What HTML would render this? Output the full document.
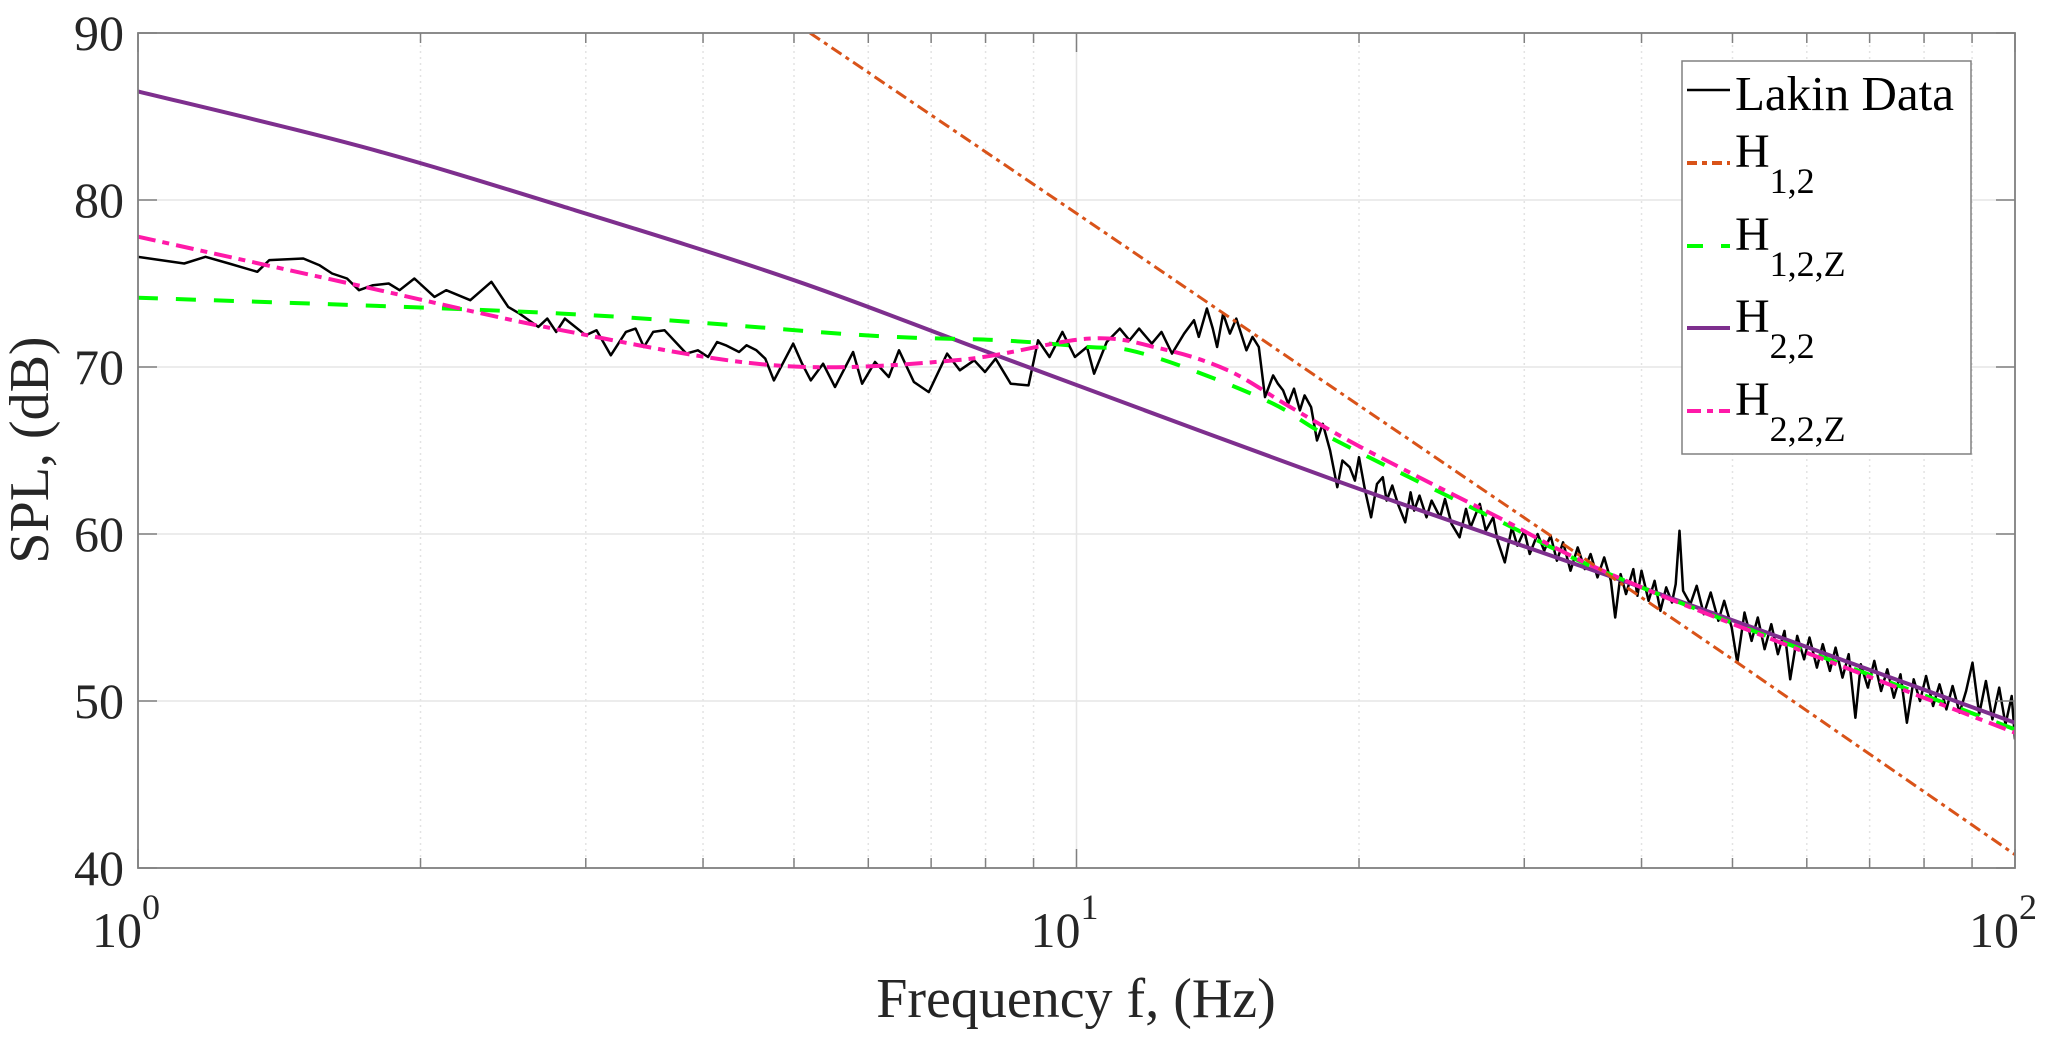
<!DOCTYPE html>
<html><head><meta charset="utf-8">
<style>
html,body{margin:0;padding:0;background:#fff;}
svg{display:block;font-family:"Liberation Serif",serif;}
</style></head>
<body>
<svg id="chart" width="2067" height="1046" viewBox="0 0 2067 1046" xmlns="http://www.w3.org/2000/svg">
<rect width="2067" height="1046" fill="#fff"/>
<g id="grid"></g>
<g id="series"></g>
<g id="axes"></g>
<g id="legend">
  <rect x="1682" y="61" width="289" height="393" fill="#fff" stroke="#808080" stroke-width="1.5"/>
  <g>
    <line x1="1687" y1="90" x2="1730" y2="90" stroke="#000" stroke-width="2.5"/>
    <text x="1735" y="110" font-size="49" fill="#000">Lakin Data</text>
  </g>
  <g>
    <line x1="1687" y1="163" x2="1730" y2="163" stroke="#d95319" stroke-width="4" stroke-dasharray="10 5 5 5"/>
    <text x="1735" y="167" font-size="48" fill="#000">H<tspan font-size="36" dy="26">1,2</tspan></text>
  </g>
  <g>
    <line x1="1687" y1="246" x2="1730" y2="246" stroke="#00ff00" stroke-width="4" stroke-dasharray="16 18"/>
    <text x="1735" y="250" font-size="48" fill="#000">H<tspan font-size="36" dy="26">1,2,Z</tspan></text>
  </g>
  <g>
    <line x1="1687" y1="328" x2="1730" y2="328" stroke="#7e2f8e" stroke-width="4"/>
    <text x="1735" y="332" font-size="48" fill="#000">H<tspan font-size="36" dy="26">2,2</tspan></text>
  </g>
  <g>
    <line x1="1687" y1="411" x2="1730" y2="411" stroke="#ff19a8" stroke-width="4" stroke-dasharray="14 6 6 6"/>
    <text x="1735" y="415" font-size="48" fill="#000">H<tspan font-size="36" dy="26">2,2,Z</tspan></text>
  </g>
</g>
<text x="1076" y="1017" font-size="56" fill="#262626" text-anchor="middle">Frequency f, (Hz)</text>
<text x="0" y="0" font-size="56" fill="#262626" text-anchor="middle" transform="translate(48,450) rotate(-90)">SPL, (dB)</text>
</svg>
<script>
// ---- data ----
const yTicks = [40, 50, 60, 70, 80, 90];
const xDecades = [0, 1, 2];
const h12Freq = [5.2, 10, 20, 50, 100];
const h12Val = [90, 79.2, 67.7, 52.5, 40.8];
const h22Freq = [1, 1.73, 2.88, 5, 8.31, 18.9, 40, 100];
const h22Val = [86.5, 83.2, 79.5, 75.2, 70.6, 63.2, 56.8, 48.7];
const h12zFreq = [1, 2.83, 5.95, 8.3, 10.3, 11.4, 13.3, 16.2, 18.9, 27.7, 40, 100];
const h12zVal = [74.15, 73.2, 71.9, 71.6, 71.2, 71.0, 69.8, 67.8, 65.6, 61.0, 56.8, 48.3];
const h22zFreq = [1, 1.68, 2.83, 4.76, 7.43, 10.3, 12.3, 14.5, 16.9, 20.1, 27.7, 40, 100];
const h22zVal = [77.8, 75.0, 72.2, 70.1, 70.4, 71.7, 71.1, 69.8, 67.6, 65.2, 61.2, 56.8, 48.1];
const lakinFreq = [1.00,1.12,1.18,1.25,1.34,1.38,1.50,1.56,1.61,1.67,1.72,1.78,1.85,1.90,1.97,2.07,2.13,2.26,2.38,2.48,2.55,2.67,2.73,2.79,2.85,3.00,3.08,3.19,3.31,3.39,3.46,3.54,3.64,3.84,3.95,4.05,4.14,4.23,4.37,4.45,4.56,4.66,4.76,4.99,5.10,5.21,5.37,5.53,5.78,5.91,6.10,6.31,6.47,6.71,6.96,7.28,7.51,7.78,7.99,8.20,8.51,8.89,9.10,9.36,9.66,9.96,10.26,10.44,10.77,11.12,11.39,11.66,12.03,12.32,12.64,13.02,13.34,13.5,13.77,13.97,14.12,14.33,14.57,14.8,15.17,15.4,15.64,15.88,16.2,16.39,16.6,16.81,17.05,17.3,17.5,17.78,18.04,18.3,18.63,18.96,19.2,19.55,19.8,20.0,20.3,20.6,20.9,21.2,21.4,21.7,22.0,22.4,22.7,22.9,23.2,23.6,23.9,24.4,24.7,25.1,25.6,26.0,26.3,26.9,27.3,27.8,28.1,28.6,29.1,29.5,30.0,30.4,31.0,31.5,32.0,32.5,33.0,33.6,34.2,34.8,35.3,35.9,36.5,37.1,37.5,38.0,38.5,39.2,39.6,40.0,40.7,41.3,41.9,42.5,43.1,43.5,43.9,44.3,45.1,45.8,46.6,47.4,48.3,49.0,49.9,50.6,51.5,52.4,53.2,54.1,55.0,55.9,56.8,57.6,58.6,59.6,60.4,61.5,62.4,63.5,64.4,65.5,66.5,67.6,68.5,69.7,70.8,72.0,73.1,74.3,75.5,76.7,78.0,79.2,80.4,81.8,83.1,84.5,85.8,87.3,88.7,90.1,91.6,93.1,94.6,96.2,97.7,99.2,100];
const lakinVal = [76.6,76.2,76.6,76.2,75.7,76.4,76.5,76.1,75.6,75.3,74.6,74.9,75.0,74.6,75.3,74.2,74.6,74.0,75.1,73.6,73.2,72.4,72.9,72.1,72.9,71.9,72.2,70.7,72.1,72.3,71.2,72.1,72.2,70.8,71.0,70.6,71.5,71.3,70.9,71.3,71.0,70.5,69.2,71.4,70.2,69.2,70.2,68.8,70.9,69.0,70.3,69.4,71.0,69.1,68.5,70.8,69.8,70.4,69.7,70.5,69.0,68.9,71.6,70.6,72.1,70.6,71.2,69.6,71.5,72.3,71.6,72.3,71.4,72.1,70.8,72.0,72.8,71.8,73.5,72.3,71.2,73.2,72.0,72.9,71.0,71.8,71.2,68.2,69.5,69.0,68.6,67.8,68.7,67.4,68.3,67.6,65.6,66.6,65.0,62.8,64.4,64.0,63.2,64.6,62.6,61.0,63.0,63.4,62.0,62.9,61.8,60.7,62.5,61.4,62.3,61.0,62.0,61.0,62.1,60.6,59.8,61.5,60.4,61.8,60.2,61.0,59.6,58.3,60.4,59.3,60.2,58.8,60.0,59.0,59.9,58.4,59.5,57.8,59.2,57.9,58.8,57.4,58.6,57.2,55.0,57.6,56.4,57.9,56.3,57.8,56.0,57.2,55.4,56.8,55.9,57.0,60.2,56.6,55.8,56.9,55.2,56.5,54.8,56.0,54.4,52.3,55.3,53.6,55.0,53.1,54.6,52.8,54.2,51.3,53.9,52.5,53.8,52.0,53.4,51.8,53.2,51.4,52.8,49.0,52.2,50.8,52.4,50.6,51.9,50.2,51.6,48.7,51.3,50.0,51.5,49.7,51.0,49.5,50.9,49.3,50.6,52.3,49.2,51.2,48.9,50.8,48.6,50.3,47.7];

// ---- axis functions ----
const L = 138, R = 2015, T = 33, B = 868;
const xMin = 0, xMax = 2, yMin = 40, yMax = 90;
function xs(f){ return L + (Math.log10(f) - xMin) / (xMax - xMin) * (R - L); }
function ys(v){ return B - (v - yMin) / (yMax - yMin) * (B - T); }
const NS = "http://www.w3.org/2000/svg";
function mk(tag, parent){ const e = document.createElementNS(NS, tag); parent.appendChild(e); return e; }

const grid = document.getElementById('grid');
const axes = document.getElementById('axes');
const series = document.getElementById('series');

for (let d = 0; d < 2; d++) {
  for (let m = 2; m <= 9; m++) {
    const x = xs(m * Math.pow(10, d));
    const g = mk('line', grid);
    
    
    g.setAttribute('x1', x); g.setAttribute('x2', x); g.setAttribute('y1', T); g.setAttribute('y2', B);
    g.setAttribute('stroke', '#e3e3e3'); g.setAttribute('stroke-width', '1.5'); g.setAttribute('stroke-dasharray', '2 4');
    [[B, B - 10], [T, T + 10]].forEach(p => {
      const t = mk('line', axes);
      
      
      t.setAttribute('x1', x); t.setAttribute('x2', x); t.setAttribute('y1', p[0]); t.setAttribute('y2', p[1]);
      t.setAttribute('stroke', '#808080'); t.setAttribute('stroke-width', '1.5');
    });
  }
}
xDecades.forEach(d => {
  const x = xs(Math.pow(10, d));
  const g = mk('line', grid);
  
  
  g.setAttribute('x1', x); g.setAttribute('x2', x); g.setAttribute('y1', T); g.setAttribute('y2', B);
  g.setAttribute('stroke', '#e6e6e6'); g.setAttribute('stroke-width', '1.5');
  [[B, B - 19], [T, T + 19]].forEach(p => {
    const t = mk('line', axes);
    
    
    t.setAttribute('x1', x); t.setAttribute('x2', x); t.setAttribute('y1', p[0]); t.setAttribute('y2', p[1]);
    t.setAttribute('stroke', '#808080'); t.setAttribute('stroke-width', '1.5');
  });
  const lab = mk('text', axes);
  
  
  lab.setAttribute('x', x - 12); lab.setAttribute('y', 947);
  lab.setAttribute('font-size', '50'); lab.setAttribute('fill', '#262626'); lab.setAttribute('text-anchor', 'middle');
  lab.textContent = '10';
  const sup = mk('tspan', lab);
  sup.setAttribute('font-size', '36'); sup.setAttribute('dy', '-28');
  sup.textContent = String(d);
});
yTicks.forEach(v => {
  const y = ys(v);
  const g = mk('line', grid);
  
  
  g.setAttribute('x1', L); g.setAttribute('x2', R); g.setAttribute('y1', y); g.setAttribute('y2', y);
  g.setAttribute('stroke', '#e6e6e6'); g.setAttribute('stroke-width', '1.5');
  [[L, L + 19], [R, R - 19]].forEach(p => {
    const t = mk('line', axes);
    
    
    t.setAttribute('x1', p[0]); t.setAttribute('x2', p[1]); t.setAttribute('y1', y); t.setAttribute('y2', y);
    t.setAttribute('stroke', '#808080'); t.setAttribute('stroke-width', '1.5');
  });
  const lab = mk('text', axes);
  
  
  lab.setAttribute('x', 124); lab.setAttribute('y', y + 17);
  lab.setAttribute('font-size', '50'); lab.setAttribute('fill', '#262626'); lab.setAttribute('text-anchor', 'end');
  lab.textContent = String(v);
});
const box = mk('rect', axes);


box.setAttribute('x', L); box.setAttribute('y', T); box.setAttribute('width', R - L); box.setAttribute('height', B - T);
box.setAttribute('fill', 'none'); box.setAttribute('stroke', '#808080'); box.setAttribute('stroke-width', '1.8');

const defs = mk('defs', series);
const cp = mk('clipPath', defs); cp.setAttribute('id', 'plotclip');
const cr = mk('rect', cp); cr.setAttribute('x', L); cr.setAttribute('y', T); cr.setAttribute('width', R - L); cr.setAttribute('height', B - T);

function drawLine(fr, vals, color, width, dash, smooth) {
  const p = mk('path', series);
  const pts = fr.map((f, i) => [xs(f), ys(vals[i])]);
  let d = 'M' + pts[0][0].toFixed(1) + ',' + pts[0][1].toFixed(1);
  for (let i = 1; i < pts.length; i++) {
    if (smooth) {
      const p0 = pts[Math.max(0, i - 2)], p1 = pts[i - 1], p2 = pts[i], p3 = pts[Math.min(pts.length - 1, i + 1)];
      const c1 = [p1[0] + (p2[0] - p0[0]) / 6, p1[1] + (p2[1] - p0[1]) / 6];
      const c2 = [p2[0] - (p3[0] - p1[0]) / 6, p2[1] - (p3[1] - p1[1]) / 6];
      d += 'C' + c1[0].toFixed(1) + ',' + c1[1].toFixed(1) + ' ' + c2[0].toFixed(1) + ',' + c2[1].toFixed(1) + ' ' + p2[0].toFixed(1) + ',' + p2[1].toFixed(1);
    } else {
      d += 'L' + pts[i][0].toFixed(1) + ',' + pts[i][1].toFixed(1);
    }
  }
  p.setAttribute('d', d);
  p.setAttribute('fill', 'none'); p.setAttribute('stroke', color); p.setAttribute('stroke-width', width);
  p.setAttribute('stroke-linejoin', 'round');
  if (dash) p.setAttribute('stroke-dasharray', dash);
  p.setAttribute('clip-path', 'url(#plotclip)');
  return p;
}
let s;
s = drawLine(lakinFreq, lakinVal, '#000', 2.5, null, false);


s = drawLine(h22Freq, h22Val, '#7e2f8e', 4, null, true);


s = drawLine(h12zFreq, h12zVal, '#00ff00', 4, '20 18', true);


s = drawLine(h22zFreq, h22zVal, '#ff19a8', 4, '18 7 7 7', true);


s = drawLine(h12Freq, h12Val, '#d95319', 3, '12 5 4 5', false);


</script>
</body></html>
